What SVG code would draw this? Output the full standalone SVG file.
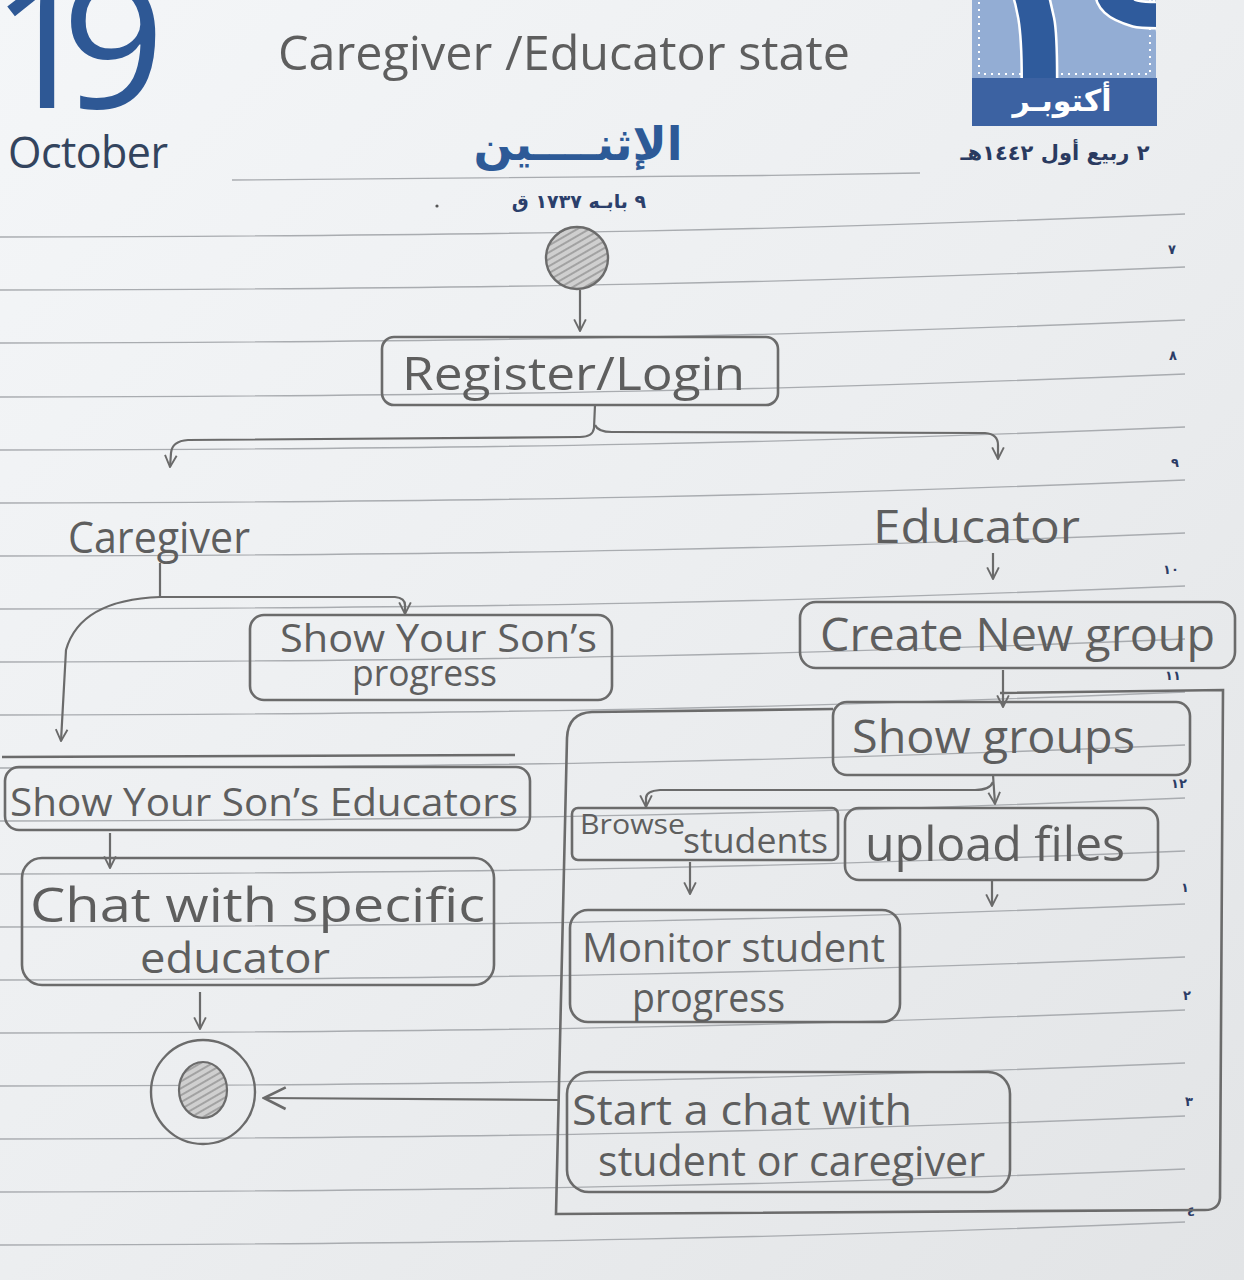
<svg xmlns="http://www.w3.org/2000/svg" width="1244" height="1280" viewBox="0 0 1244 1280">
<defs>
<linearGradient id="paper" x1="0" y1="0" x2="1" y2="1">
<stop offset="0" stop-color="#f4f6f8"/>
<stop offset="0.5" stop-color="#eceef0"/>
<stop offset="1" stop-color="#e2e4e6"/>
</linearGradient>
<pattern id="hatch" width="6" height="6" patternUnits="userSpaceOnUse" patternTransform="rotate(-30)">
<rect width="6" height="6" fill="#cfcfcf"/>
<line x1="0" y1="1" x2="6" y2="1" stroke="#a2a2a2" stroke-width="2"/>
</pattern>
<marker id="arr" viewBox="0 0 12 12" refX="11" refY="6" markerWidth="14" markerHeight="14" markerUnits="userSpaceOnUse" orient="auto">
<path d="M1,1 L11,6 L1,11" fill="none" stroke="#6a6a6a" stroke-width="1.6"/>
</marker>
<marker id="arrBig" viewBox="0 0 12 12" refX="11" refY="6" markerWidth="26" markerHeight="26" markerUnits="userSpaceOnUse" orient="auto">
<path d="M1,1 L11,6 L1,11" fill="none" stroke="#6a6a6a" stroke-width="1.2"/>
</marker>
<clipPath id="topbox"><rect x="972" y="0" width="184" height="78"/></clipPath>
</defs>
<style>
.rule{fill:none;stroke:#a9acb0;stroke-width:1.3}
.box{fill:none;stroke:#6b6b6b;stroke-width:2.6}
.conn{fill:none;stroke:#6b6b6b;stroke-width:2.2}
.hw{font-family:"Open Sans","Liberation Sans",sans-serif;fill:#5e5e5e;font-weight:400}
.ar{font-family:"DejaVu Sans",sans-serif;font-weight:bold}
.num{font-family:"DejaVu Sans",sans-serif;font-weight:bold;fill:#2c3c66;font-size:13px}
</style>

<rect x="0" y="0" width="1244" height="1280" fill="url(#paper)"/>

<g id="ruled-lines">
<path class="rule" d="M232,180 C500,179 700,177 920,173"/>
<path class="rule" d="M0,237 C500,236 800,230 1185,214"/>
<path class="rule" d="M0,290 C500,289 800,283 1185,267"/>
<path class="rule" d="M0,343 C500,342 800,336 1185,320"/>
<path class="rule" d="M0,397 C500,396 800,390 1185,374"/>
<path class="rule" d="M0,450 C500,449 800,443 1185,427"/>
<path class="rule" d="M0,503 C500,502 800,496 1185,480"/>
<path class="rule" d="M0,556 C500,555 800,549 1185,533"/>
<path class="rule" d="M0,609 C500,608 800,602 1185,586"/>
<path class="rule" d="M0,662 C500,661 800,655 1185,639"/>
<path class="rule" d="M0,715 C500,714 800,708 1185,692"/>
<path class="rule" d="M0,768 C500,767 800,761 1185,745"/>
<path class="rule" d="M0,821 C500,820 800,814 1185,798"/>
<path class="rule" d="M0,874 C500,873 800,867 1185,851"/>
<path class="rule" d="M0,927 C500,926 800,920 1185,904"/>
<path class="rule" d="M0,980 C500,979 800,973 1185,957"/>
<path class="rule" d="M0,1033 C500,1032 800,1026 1185,1010"/>
<path class="rule" d="M0,1086 C500,1085 800,1079 1185,1063"/>
<path class="rule" d="M0,1139 C500,1138 800,1132 1185,1116"/>
<path class="rule" d="M0,1192 C500,1191 800,1185 1185,1169"/>
<path class="rule" d="M0,1245 C500,1244 800,1238 1185,1222"/>
</g>

<g id="header">
<text x="-9" y="108" font-family="Open Sans, Liberation Sans, sans-serif" font-size="180" fill="#2e5895">1<tspan dx="-32">9</tspan></text>
<text x="8" y="168" font-family="Open Sans, Liberation Sans, sans-serif" font-size="43" fill="#33445e" textLength="160">October</text>
<text class="hw" x="278" y="70" font-size="48" textLength="572" lengthAdjust="spacingAndGlyphs">Caregiver /Educator state</text>
<text class="ar" x="578" y="160" font-size="46" fill="#2d5a97" text-anchor="middle" direction="rtl">الإثنــــين</text>
<text class="ar" x="579" y="208" font-size="19" fill="#2b3f6b" text-anchor="middle" direction="rtl">٩ بابـه ١٧٣٧ ق</text>
<circle cx="437" cy="206" r="1.6" fill="#555"/>
<rect x="972" y="-2" width="184" height="80" fill="#93add4"/>
<rect x="979" y="-4" width="171" height="78" fill="none" stroke="#ffffff" stroke-width="2" stroke-dasharray="2 5"/>
<g clip-path="url(#topbox)">
<text class="ar" x="1090" y="78" font-size="190" fill="#2f5b9c" stroke="#ffffff" stroke-width="5" paint-order="stroke" text-anchor="middle" direction="rtl">١٩</text>
</g>
<rect x="972" y="78" width="185" height="48" fill="#3c62a2"/>
<text class="ar" x="1062" y="111" font-size="30" fill="#ffffff" text-anchor="middle" direction="rtl">أكتوبـر</text>
<text class="ar" x="1055" y="160" font-size="21" fill="#2a3a60" text-anchor="middle" direction="rtl">٢ ربيع أول ١٤٤٢هـ</text>
</g>

<g id="margin-numbers">
<text class="num" x="1172" y="254" text-anchor="middle">٧</text>
<text class="num" x="1173" y="360" text-anchor="middle">٨</text>
<text class="num" x="1175" y="467" text-anchor="middle">٩</text>
<text class="num" x="1171" y="574" text-anchor="middle">١٠</text>
<text class="num" x="1173" y="680" text-anchor="middle">١١</text>
<text class="num" x="1179" y="788" text-anchor="middle">١٢</text>
<text class="num" x="1185" y="892" text-anchor="middle">١</text>
<text class="num" x="1187" y="1000" text-anchor="middle">٢</text>
<text class="num" x="1189" y="1106" text-anchor="middle">٣</text>
<text class="num" x="1191" y="1216" text-anchor="middle">٤</text>
</g>

<g id="container">
<path class="box" d="M833,709 L592,712 Q568,713 567,738 L556,1214 L1205,1210 Q1219,1210 1220,1198 L1223,690 L1000,693"/>
</g>

<g id="start-node">
<circle cx="577" cy="258" r="31" fill="url(#hatch)" stroke="#6b6b6b" stroke-width="2.4"/>
</g>

<g id="register-login">
<rect class="box" x="382" y="337" width="396" height="68" rx="12"/>
<text class="hw" x="402" y="390" font-size="46" textLength="343" lengthAdjust="spacingAndGlyphs">Register/Login</text>
</g>

<g id="caregiver">
<text class="hw" x="68" y="553" font-size="44" textLength="182" lengthAdjust="spacingAndGlyphs">Caregiver</text>
</g>

<g id="educator">
<text class="hw" x="873" y="543" font-size="46" textLength="207" lengthAdjust="spacingAndGlyphs">Educator</text>
</g>

<g id="show-sons-progress">
<rect class="box" x="250" y="615" width="362" height="85" rx="14"/>
<text class="hw" x="280" y="652" font-size="38" textLength="317" lengthAdjust="spacingAndGlyphs">Show Your Son’s</text>
<text class="hw" x="352" y="686" font-size="36" textLength="145" lengthAdjust="spacingAndGlyphs">progress</text>
</g>

<g id="create-new-group">
<rect class="box" x="800" y="602" width="435" height="66" rx="16"/>
<text class="hw" x="820" y="651" font-size="46" textLength="395" lengthAdjust="spacingAndGlyphs">Create New group</text>
</g>

<g id="show-groups">
<rect class="box" x="833" y="702" width="357" height="73" rx="14"/>
<text class="hw" x="852" y="753" font-size="46" textLength="283" lengthAdjust="spacingAndGlyphs">Show groups</text>
</g>

<g id="browse-students">
<rect class="box" x="572" y="808" width="266" height="52" rx="6"/>
<text class="hw" x="580" y="834" font-size="28" textLength="105" lengthAdjust="spacingAndGlyphs">Browse</text>
<text class="hw" x="683" y="853" font-size="34" textLength="145" lengthAdjust="spacingAndGlyphs">students</text>
</g>

<g id="upload-files">
<rect class="box" x="845" y="808" width="313" height="72" rx="14"/>
<text class="hw" x="865" y="861" font-size="48" textLength="260" lengthAdjust="spacingAndGlyphs">upload files</text>
</g>

<g id="monitor-student-progress">
<rect class="box" x="570" y="910" width="330" height="112" rx="18"/>
<text class="hw" x="582" y="962" font-size="40" textLength="303" lengthAdjust="spacingAndGlyphs">Monitor student</text>
<text class="hw" x="632" y="1012" font-size="40" textLength="153" lengthAdjust="spacingAndGlyphs">progress</text>
</g>

<g id="start-chat">
<rect class="box" x="567" y="1072" width="443" height="120" rx="22"/>
<text class="hw" x="572" y="1125" font-size="42" textLength="340" lengthAdjust="spacingAndGlyphs">Start a chat with</text>
<text class="hw" x="598" y="1176" font-size="42" textLength="387" lengthAdjust="spacingAndGlyphs">student or caregiver</text>
</g>

<g id="show-sons-educators">
<path class="box" d="M2,757 L515,755"/>
<rect class="box" x="5" y="767" width="525" height="63" rx="14"/>
<text class="hw" x="10" y="816" font-size="38" textLength="508" lengthAdjust="spacingAndGlyphs">Show Your Son’s Educators</text>
</g>

<g id="chat-specific-educator">
<rect class="box" x="22" y="858" width="472" height="127" rx="20"/>
<text class="hw" x="30" y="922" font-size="48" textLength="455" lengthAdjust="spacingAndGlyphs">Chat with specific</text>
<text class="hw" x="140" y="973" font-size="42" textLength="190" lengthAdjust="spacingAndGlyphs">educator</text>
</g>

<g id="end-node">
<circle cx="203" cy="1092" r="52" fill="none" stroke="#6b6b6b" stroke-width="2.4"/>
<ellipse cx="203" cy="1090" rx="24" ry="28" fill="url(#hatch)" stroke="#6b6b6b" stroke-width="2.2"/>
</g>

<g id="connectors">
<path class="conn" d="M580,290 L580,331" marker-end="url(#arr)"/>
<path class="conn" d="M595,405 L594,428 Q593,437 580,437 L188,440 Q172,441 171,453 L170,467" marker-end="url(#arr)"/>
<path class="conn" d="M595,425 Q598,432 612,432 L985,433 Q998,434 998,445 L998,459" marker-end="url(#arr)"/>
<path class="conn" d="M160,563 L160,597"/>
<path class="conn" d="M160,597 L395,597 Q405,598 405,605 L405,614" marker-end="url(#arr)"/>
<path class="conn" d="M160,597 Q80,600 66,650 L61,741" marker-end="url(#arr)"/>
<path class="conn" d="M993,553 L993,579" marker-end="url(#arr)"/>
<path class="conn" d="M1003,670 L1003,707" marker-end="url(#arr)"/>
<path class="conn" d="M993,775 L995,804" marker-end="url(#arr)"/>
<path class="conn" d="M993,782 Q990,790 975,790 L660,790 Q646,791 646,798 L646,807" marker-end="url(#arr)"/>
<path class="conn" d="M690,862 L690,894" marker-end="url(#arr)"/>
<path class="conn" d="M992,880 L992,906" marker-end="url(#arr)"/>
<path class="conn" d="M110,833 L110,868" marker-end="url(#arr)"/>
<path class="conn" d="M200,992 L200,1029" marker-end="url(#arr)"/>
<path class="conn" d="M559,1100 L264,1098" marker-end="url(#arrBig)"/>
</g>
</svg>
